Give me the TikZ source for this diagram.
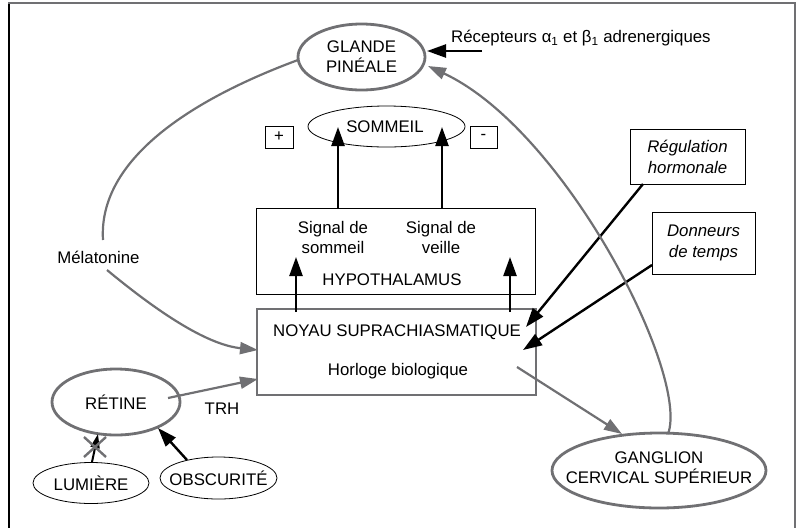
\documentclass[tikz,border=0pt]{standalone}
\usepackage{fontspec}
\setmainfont{Liberation Sans}
\usetikzlibrary{arrows.meta,shapes.geometric,calc}
\definecolor{lg}{RGB}{112,112,115}
\tikzset{
  gell/.style={ellipse, draw=lg, line width=2.8pt, inner sep=0pt, align=center},
  tell/.style={ellipse, draw=black, line width=0.8pt, inner sep=0pt, align=center},
  tbox/.style={rectangle, draw=black, line width=0.8pt, inner sep=0pt, align=center},
  lbl/.style={inner sep=0pt, align=center},
  barr/.style={draw=black, line width=2.4pt, -{Triangle[length=19pt,width=13pt]}},
  garr/.style={draw=lg, line width=2.2pt, -{Triangle[length=18pt,width=12pt]}},
  gline/.style={draw=lg, line width=2.2pt},
}
\begin{document}
\begin{tikzpicture}[x=1pt,y=-1pt,font=\fontsize{16.8}{20}\selectfont]
\useasboundingbox (0,0) rectangle (797,528);
% frame
\draw[black, line width=1.2pt] (9,2) -- (9,528);
\draw[lg, line width=2pt] (8,3) -- (795,3) -- (795,528);
\coordinate (fr) at (9,3);

% nodes
\node[gell, minimum width=127pt, minimum height=66pt] (pin) at (361.5,57) {GLANDE\\PINÉALE};
\node[lbl, anchor=west] (rec) at (451,38) {Récepteurs α\textsubscript{1} et β\textsubscript{1} adrenergiques};
\node[tell, minimum width=157pt, minimum height=41pt] (som) at (386.5,126.5) {};
\node[lbl] (somt) at (385,127) {SOMMEIL};
\node[tbox, minimum width=28pt, minimum height=22pt] (plus) at (279,137) {+};
\node[tbox, minimum width=27pt, minimum height=22pt] (minus) at (483.5,137) {-};

\node[tbox, minimum width=279pt, minimum height=86pt] (hyp) at (395.5,251) {};
\node[lbl] (sigs) at (333,237) {Signal de\\sommeil};
\node[lbl] (sigv) at (441,237) {Signal de\\veille};
\node[lbl] (hypt) at (392,280) {HYPOTHALAMUS};

\node[rectangle, draw=lg, line width=2.8pt, minimum width=279pt, minimum height=86pt] (nsc) at (396.5,352) {};
\node[lbl] (nsct) at (397,332) {NOYAU SUPRACHIASMATIQUE};
\node[lbl] (horl) at (398,371) {Horloge biologique};

\node[tbox, minimum width=115pt, minimum height=55pt, font=\fontsize{16.8}{21}\selectfont\itshape] (reg) at (687.5,157) {Régulation\\hormonale};
\node[tbox, minimum width=103pt, minimum height=62pt, font=\fontsize{16.8}{21}\selectfont\itshape] (don) at (703.5,243) {Donneurs\\de temps};

\node[lbl] (mel) at (98.5,257) {Mélatonine};
\node[gell, minimum width=128pt, minimum height=66pt] (ret) at (116,402) {RÉTINE};
\node[lbl] (trh) at (222,409) {TRH};
\node[tell, minimum width=116pt, minimum height=41pt] (lum) at (91,483) {};
\node[lbl] (lumt) at (91,483) {LUMIÈRE};
\node[tell, minimum width=117pt, minimum height=42pt] (obs) at (218.5,478) {};
\node[lbl] (obst) at (218.5,478) {OBSCURITÉ};
\node[gell, minimum width=214pt, minimum height=75pt] (gan) at (659,470.5) {};
\node[lbl] (gant) at (659,468) {GANGLION\\CERVICAL SUPÉRIEUR};

% connectors
\coordinate (recS) at (482,51);
\coordinate (pinR) at (427,51);
\draw[barr] (recS) -- (pinR);

\coordinate (somL) at (338,127);
\coordinate (somR) at (442,127);
\draw[barr] (338,208) -- (somL);
\draw[barr] (442,208) -- (somR);

\coordinate (hypL) at (296,257);
\coordinate (hypR) at (510,257);
\draw[barr] (296,312) -- (hypL);
\draw[barr] (510,312) -- (hypR);

\coordinate (regS) at (643,184);
\coordinate (regT) at (526,327);
\draw[barr] (regS) -- (regT);
\coordinate (donS) at (652,265);
\coordinate (donT) at (523,350);
\draw[barr] (donS) -- (donT);

% melatonine
\coordinate (pinL) at (298,60);
\coordinate (melT) at (103,240);
\coordinate (melB) at (107,270);
\coordinate (nscL) at (258,350);
\draw[gline] (pinL) .. controls (190,100) and (98,160) .. (melT);
\draw[garr] (melB) .. controls (165,318) and (210,345) .. (nscL);

% retine -> nsc
\coordinate (retR) at (168,398);
\coordinate (nscL2) at (258,379);
\draw[garr] (retR) -- (nscL2);

% lumiere, obscurite
\coordinate (lumT) at (92,462);
\coordinate (retB) at (98,434);
\draw[draw=black, line width=2pt, -{Triangle[length=14pt,width=9pt]}] (lumT) -- (retB);
\coordinate (xc) at (95,447);
\draw[lg, line width=2.4pt] ($(xc)+(-11,-10)$) -- ($(xc)+(11,10)$);
\draw[lg, line width=2.4pt] ($(xc)+(-11,10)$) -- ($(xc)+(11,-10)$);
\coordinate (obsT) at (187,460);
\coordinate (retB2) at (158,428);
\draw[barr] (obsT) -- (retB2);

% nsc -> ganglion
\coordinate (nscR) at (517,367);
\coordinate (ganT) at (622,434);
\draw[garr] (nscR) -- (ganT);

% ganglion -> pineal
\coordinate (ganT2) at (668,434);
\coordinate (pinR2) at (428,66);
\draw[garr] (ganT2) .. controls (690,375) and (565,130) .. (pinR2);
\end{tikzpicture}
\end{document}
